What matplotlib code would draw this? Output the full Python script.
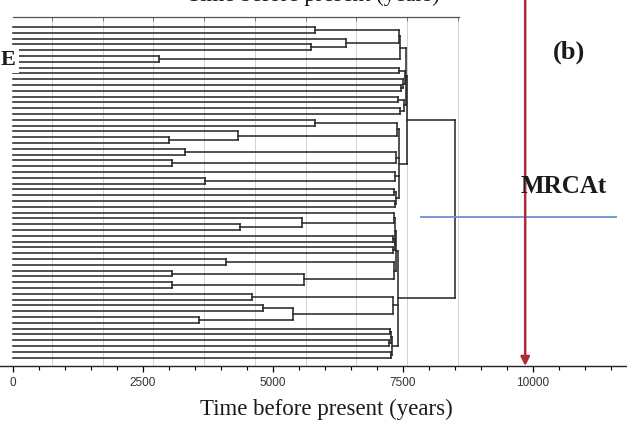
import matplotlib
matplotlib.use("Agg")
import matplotlib.pyplot as plt
from matplotlib.ticker import MultipleLocator
from matplotlib.collections import LineCollection

# Tip-dated tree: leaves are tip indices (top to bottom),
# the number after each ")" is the node age in years before present.
upper_clade = ("((((0,1)5800,(2,(3,4)5730)6400)7420,(5,6)2800)7450,"
               "((7,8)7430,(9,(10,11)7470)7500)7540,"
               "((12,13)7410,(14,15)7440)7520)7560")
lower_clade = ("(((16,17)5800,(18,(19,20)3000)4330)7380,"
               "((21,22)3300,(23,24)3060)7360,"
               "(25,(26,27)3700)7350,"
               "((28,29)7320,(30,31)7340)7370)7420")
top_clade_age = 7580
bottom_a = ("(((32,(33,(34,35)4370)5560)7330,((36,37)7300,(38,39)7310)7340)7350,"
            "((40,41)4100,((42,43)3050,(44,45)3050)5600)7320)7370")
bottom_b = "((46,47)4600,((48,49)4800,(50,51)3580)5380)7300"
bottom_c = "(((52,53)7250,(54,55)7240)7270,(56,57)7260)7290"
bottom_clade_age = 7400
root_age = 8500

mrca_age = 9850                 # red arrow
mrca_band = (7830, 11615)        # blue horizontal line, years
mrca_band_row = 32.8             # row position of the blue line
grid_ages = [750, 1725, 2700, 3675, 4650, 5625, 6600, 7575, 8550]
tick_ages = [0, 2500, 5000, 7500, 10000]
tick_labels = ["0", "2500", "5000", "7500", "10000"]
x_label = "Time before present (years)"

newick = (f"(({upper_clade},{lower_clade}){top_clade_age},"
          f"({bottom_a},{bottom_b},{bottom_c}){bottom_clade_age}){root_age}")


def parse(s):
    pos = 0

    def node():
        nonlocal pos
        if s[pos] == "(":
            pos += 1
            kids = [node()]
            while s[pos] == ",":
                pos += 1
                kids.append(node())
            pos += 1  # ")"
            start = pos
            while pos < len(s) and (s[pos].isdigit() or s[pos] == "."):
                pos += 1
            return (float(s[start:pos]), kids)
        start = pos
        while pos < len(s) and s[pos].isdigit():
            pos += 1
        return int(s[start:pos])

    return node()


tree = parse(newick)

W, H = 627, 428
fig = plt.figure(figsize=(W / 100, H / 100), dpi=100)
fig.patch.set_facecolor("white")

px_per_year = 0.052
x0_px = 13
axis_px = 366
row0_px, row_step = 27, 5.8


def xfrac(age):
    return (x0_px + px_per_year * age) / W


bottom = (H - axis_px) / H

# tree panel frame with its gridlines and top ruler
box_top_px = 17
box = fig.add_axes([xfrac(0), bottom, xfrac(8580) - xfrac(0), (axis_px - box_top_px) / H])
box.set_xlim(0, 8580)
box.set_ylim(0, 1)
for side in ("left", "right", "bottom"):
    box.spines[side].set_visible(False)
box.spines["top"].set_color("#555555")
box.spines["top"].set_linewidth(0.9)
box.set_xticks(grid_ages)
box.xaxis.tick_top()
box.tick_params(axis="x", direction="in", length=3, width=0.7, colors="#777777",
                labeltop=False, labelbottom=False)
box.set_yticks([])
box.grid(axis="x", color="#d2d2d2", linewidth=0.7)
box.set_facecolor("none")

ax = fig.add_axes([0, bottom, 1, 1 - bottom])
ax.set_facecolor("none")
ax.set_xlim(-x0_px / px_per_year, (W - x0_px) / px_per_year)
ax.set_ylim((axis_px - row0_px) / row_step, -row0_px / row_step)

segs = []


def draw(n):
    if isinstance(n, int):
        return 0.0, float(n)
    h, kids = n
    pts = [draw(k) for k in kids]
    ys = [p[1] for p in pts]
    for kh, ky in pts:
        segs.append([(kh, ky), (h, ky)])
    segs.append([(h, min(ys)), (h, max(ys))])
    return h, (ys[0] + ys[-1]) / 2


draw(tree)
ax.add_collection(LineCollection(segs, colors="#2a2a2a", linewidths=1.15,
                                 capstyle="projecting"))

ax.hlines(mrca_band_row, *mrca_band, color="#6a8fd8", linewidth=1.3, zorder=3)
ax.annotate("", xy=(mrca_age, 0), xycoords=("data", "axes fraction"),
            xytext=(mrca_age, 1.0), textcoords=("data", "axes fraction"),
            arrowprops=dict(arrowstyle="-|>", color="#b02a3c", lw=1.8,
                            mutation_scale=13, shrinkA=0, shrinkB=0), zorder=4)

for side in ("left", "right", "top"):
    ax.spines[side].set_visible(False)
ax.spines["bottom"].set_color("#222222")
ax.spines["bottom"].set_linewidth(1.0)
ax.set_yticks([])
ax.set_xticks(tick_ages)
ax.set_xticklabels(tick_labels, family="Liberation Sans", fontsize=8.5, color="#333333")
ax.xaxis.set_minor_locator(MultipleLocator(500))
ax.tick_params(axis="x", which="major", direction="out", length=4, width=0.9, pad=4)
ax.tick_params(axis="x", which="minor", direction="out", length=3, width=0.8)

serif = "Liberation Serif"
fig.text(326 / W, 1 - 409 / H, x_label, family=serif, fontsize=16.5,
         ha="center", va="center", color="#1a1a1a")
fig.text(313 / W, 1 - 1 / H, x_label, family=serif, fontsize=16.5,
         ha="center", va="baseline", color="#1a1a1a")
fig.text(0.5 / W, 1 - 65 / H, "E", family=serif, fontweight="bold", fontsize=16,
         ha="left", va="baseline", color="#1a1a1a", zorder=10,
         bbox=dict(boxstyle="square,pad=0.15", facecolor="white", edgecolor="none"))
fig.text(569 / W, 1 - 52 / H, "(b)", family=serif, fontweight="bold", fontsize=19,
         ha="center", va="center", color="#1a1a1a")
fig.text(564 / W, 1 - 193 / H, "MRCAt", family=serif, fontweight="bold", fontsize=18,
         ha="center", va="baseline", color="#1a1a1a")

fig.savefig("out.png", dpi=100)
